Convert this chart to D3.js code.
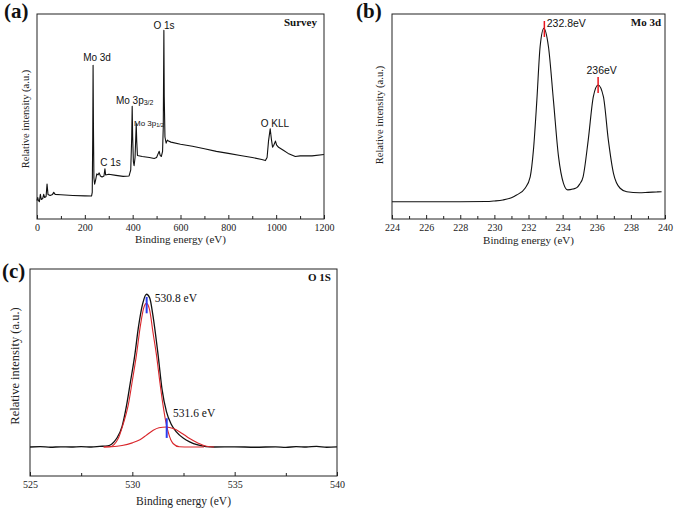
<!DOCTYPE html>
<html>
<head>
<meta charset="utf-8">
<script src="https://cdn.jsdelivr.net/npm/d3@7"></script>
<style>
  html, body { margin: 0; padding: 0; background: #fff; }
  svg { display: block; }
</style>
</head>
<body>
<svg id="chart" width="675" height="509"></svg>
<script>
// ---------------- DATA ----------------
// Panel (a) survey spectrum: [binding energy eV, relative intensity]
const surveyData = [
  [0,9],[3,10.5],[6,9],[10,8.5],[14,12],[18,9.5],[24,10],[28,12],[32,10.5],[38,11],[42,17],[46,12],
  [55,11.5],[65,12],[70,13],[76,12],[100,11.8],[150,11.5],[200,11.3],[228,11.2],[231,13],[233,40],
  [234.5,75],[236,45],[238,20],[241,17],[245,19],[250,22],[255,21.5],[260,22.5],[265,21],[272,20.5],
  [280,21],[284,24.5],[287,21.5],[300,21.8],[330,21.3],[360,20.8],[385,21],[392,24],[396,40],[398,55],
  [400,40],[403,28],[406,26],[410,30],[413,40],[415,46.5],[417,38],[420,31],[440,30.5],[470,30],
  [490,29.5],[500,30],[507,32],[511,33],[515,31],[520,30.5],[525,33],[528,45],[530.5,92],[532,60],
  [535,40],[540,37],[545,38.5],[550,38],[560,37.5],[600,36.5],[650,35.5],[700,34.3],[750,33],[800,32],
  [850,31],[900,30],[940,29],[955,28.5],[962,30],[968,38],[975,44],[980,39],[985,35],[990,36],[997,38],
  [1002,36],[1010,35],[1030,33.5],[1050,32],[1070,31],[1080,30.5],[1100,30.8],[1150,30.8],[1200,31.5]
];
// Panel (b) Mo 3d
const mo3dData = [
  [224,8.4],[226,8.4],[228,8.4],[229.5,8.5],[230,8.8],[230.5,9.3],[231,10.4],[231.3,11.7],[231.8,15],
  [232.1,20.6],[232.29,33.7],[232.49,58],[232.68,84],[232.9,93],[233.17,84],[233.46,58],[233.76,30.4],
  [234.05,17.4],[234.3,14.2],[234.6,14.6],[234.83,15.3],[235.0,17],[235.2,20.6],[235.5,38.5],[235.8,59.7],
  [236.08,65.4],[236.39,59.7],[236.68,38.5],[236.98,22.3],[237.37,15],[237.76,13.3],[238.5,12.8],
  [239,13],[239.5,13.2],[239.8,13.3]
];
// Panel (c) O 1s: measured envelope and two fitted components
const o1sData = [
  [525,14.0],[525.5,14.2],[526,13.9],[526.5,14.1],[527,14.0],[527.5,14.2],[528,14.0],[528.4,14.3],
  [528.8,14.6],[529.0,15.5],[529.23,18.1],[529.5,24],[529.72,34.2],[529.9,45],[530.12,58.4],[530.3,72],
  [530.5,83],[530.69,87.8],[530.85,86],[531.0,78],[531.26,58.4],[531.45,42],[531.67,31],[531.9,25],
  [532.15,21.3],[532.5,18.2],[532.8,16.5],[533.2,15.0],[533.6,14.2],[534,14.0],[535,14.1],[536,13.9],
  [537,14.1],[537.5,13.8],[538,14.2],[538.5,14.0],[539,14.3],[539.5,13.9],[540,14.1]
];
const o1sFitMain = [
  [528.6,14],[528.9,14.1],[529.31,18.1],[529.55,25],[529.8,34.2],[530.0,46],[530.2,58.4],[530.4,73],
  [530.55,81],[530.69,83.4],[530.85,80],[531.0,70],[531.18,58.4],[531.35,45],[531.5,34.2],[531.62,27],
  [531.75,21.3],[531.99,15.7],[532.3,14.1],[532.8,14],[533.5,14]
];
const o1sFitSecond = [
  [528.6,14],[529.0,14.1],[529.5,14.7],[530.0,16],[530.37,17.5],[530.7,19.8],[531.02,22.1],[531.3,23.3],
  [531.67,23.7],[532.0,22.9],[532.32,21.3],[532.55,19.8],[532.8,18.1],[533.2,16],[533.62,14.4],[534,14]
];
// Axis ticks
const surveyTicks = [0,200,400,600,800,1000,1200];
const surveyMinor = [100,300,500,700,900,1100];
const mo3dTicks = [224,226,228,230,232,234,236,238,240];
const mo3dMinor = [225,227,229,231,233,235,237,239];
const o1sTicks = [525,530,535,540];
const o1sMinor = [527.5,532.5,537.5];
// Peak annotations: [label, energy, intensity]
const surveyLabels = [
  ["Mo 3d", 251, 77],
  ["C 1s", 307, 25.9],
  ["O 1s", 531, 92.7],
  ["O KLL", 995, 44.9]
];
const surveySubLabels = [ // [main, subscript, energy(start), intensity, size]
  ["Mo 3p", "3/2", 330, 56.1, 10],
  ["Mo 3p", "1/2", 405.5, 45.4, 8]
];
const mo3dPeakLabels = [["232.8eV", 233.07, 93.7, "start"], ["236eV", 236.29, 70.7, "middle"]];
const mo3dMarks = [[232.93, 88.8, 96.6], [236.08, 61.5, 69.3]];
const o1sPeakLabels = [["530.8 eV", 531.1, 84.2], ["531.6 eV", 531.99, 28.3]];
const o1sMarks = [[530.70, 78.6, 86.5], [531.68, 18.4, 27.9]];

// ---------------- DRAW ----------------
const SERIF = "'Liberation Serif', 'Times New Roman', Times, serif";
const SANS = "'Liberation Sans', Arial, Helvetica, sans-serif";
const svg = d3.select("#chart");

function panel(cfg) {
  const x = d3.scaleLinear().domain(cfg.xDomain).range(cfg.xRange);
  const y = d3.scaleLinear().domain([0, 100]).range(cfg.yRange);
  const g = svg.append("g");
  const [x0, x1] = cfg.xRange, [yb, yt] = cfg.yRange;

  const line = d3.line().x(d => x(d[0])).y(d => y(d[1])).curve(cfg.curve || d3.curveLinear);
  cfg.series.forEach(s => {
    g.append("path").datum(s.data).attr("d", line)
      .attr("fill", "none").attr("stroke", s.color).attr("stroke-width", s.width)
      .attr("stroke-linejoin", "round");
  });

  g.append("rect").attr("x", x0).attr("y", yt).attr("width", x1 - x0).attr("height", yb - yt)
    .attr("fill", "none").attr("stroke", "#222").attr("stroke-width", 1);

  const axis = d3.axisBottom(x).tickValues(cfg.ticks).tickSizeInner(-4).tickSizeOuter(0).tickPadding(5)
    .tickFormat(d3.format("d"));
  const ax = g.append("g").attr("transform", `translate(0,${yb})`).call(axis);
  ax.attr("font-family", null).attr("font-size", null);
  ax.select(".domain").remove();
  ax.selectAll(".tick line").attr("stroke", "#222");
  ax.selectAll(".tick text").style("font-family", SERIF).style("font-size", cfg.tickFont + "px")
    .attr("fill", "#222").attr("dy", "0.71em");
  const minor = d3.axisBottom(x).tickValues(cfg.minor).tickSizeInner(-3).tickSizeOuter(0).tickFormat("");
  const mx = g.append("g").attr("transform", `translate(0,${yb})`).call(minor);
  mx.select(".domain").remove();
  mx.selectAll(".tick line").attr("stroke", "#222");

  g.append("text").style("font-family", SERIF).attr("x", (x0 + x1) / 2).attr("y", cfg.xTitleY)
    .attr("text-anchor", "middle").style("font-size", cfg.xTitleFont + "px").attr("fill", "#222")
    .text("Binding energy (eV)");
  g.append("text").style("font-family", SERIF)
    .attr("transform", `translate(${cfg.yTitleX},${cfg.yTitleCY}) rotate(-90)`)
    .attr("text-anchor", "middle").style("font-size", cfg.yTitleFont + "px").attr("fill", "#222")
    .text("Relative intensity (a.u.)");

  g.append("text").style("font-family", SERIF).attr("x", cfg.letterX).attr("y", cfg.letterY)
    .style("font-size", "21px").style("font-weight", "bold").attr("fill", "#111").text(cfg.letter);
  g.append("text").style("font-family", SERIF).attr("x", x1 - cfg.titleInset).attr("y", yt + 12)
    .attr("text-anchor", "end").style("font-size", "11px").style("font-weight", "bold").attr("fill", "#111")
    .text(cfg.title);
  return {g, x, y};
}

// (a)
const A = panel({
  xDomain: [0, 1200], xRange: [37, 324], yRange: [219, 14],
  ticks: surveyTicks, minor: surveyMinor, tickFont: 10,
  series: [{data: surveyData, color: "#111", width: 1.1}],
  xTitleY: 243, xTitleFont: 11, yTitleX: 29, yTitleCY: 119, yTitleFont: 10.5,
  letter: "(a)", letterX: 4, letterY: 18, title: "Survey", titleInset: 7
});
surveyLabels.forEach(([t, e, v]) => {
  A.g.append("text").style("font-family", SANS).attr("x", A.x(e)).attr("y", A.y(v))
    .attr("text-anchor", "middle").style("font-size", "10px").attr("fill", "#111").text(t);
});
surveySubLabels.forEach(([t, sub, e, v, fs]) => {
  const tx = A.g.append("text").style("font-family", SANS).attr("x", A.x(e)).attr("y", A.y(v))
    .style("font-size", fs + "px").attr("fill", "#111");
  tx.append("tspan").text(t);
  tx.append("tspan").style("font-size", (fs * 0.7) + "px").attr("dy", fs * 0.15).text(sub);
});

// (b)
const B = panel({
  xDomain: [224, 240], xRange: [392, 665], yRange: [219, 14],
  ticks: mo3dTicks, minor: mo3dMinor, tickFont: 10,
  series: [{data: mo3dData, color: "#111", width: 1.1}], curve: d3.curveMonotoneX,
  xTitleY: 244, xTitleFont: 11, yTitleX: 383, yTitleCY: 115, yTitleFont: 10.5,
  letter: "(b)", letterX: 356, letterY: 18, title: "Mo 3d", titleInset: 4
});
mo3dMarks.forEach(([e, lo, hi]) => {
  B.g.append("line").attr("x1", B.x(e)).attr("x2", B.x(e)).attr("y1", B.y(lo)).attr("y2", B.y(hi))
    .attr("stroke", "#e8141c").attr("stroke-width", 1.5);
});
mo3dPeakLabels.forEach(([t, e, v, anchor]) => {
  B.g.append("text").style("font-family", SANS).attr("x", B.x(e)).attr("y", B.y(v))
    .attr("text-anchor", anchor).style("font-size", "10.5px").attr("fill", "#111").text(t);
});

// (c)
const C = panel({
  xDomain: [525, 540], xRange: [30, 337], yRange: [476, 269],
  ticks: o1sTicks, minor: o1sMinor, tickFont: 10,
  series: [
    {data: o1sData, color: "#111", width: 1.3},
    {data: o1sFitMain, color: "#d9262b", width: 1.1},
    {data: o1sFitSecond, color: "#d9262b", width: 1.1}
  ], curve: d3.curveMonotoneX,
  xTitleY: 505, xTitleFont: 11.5, yTitleX: 19, yTitleCY: 366, yTitleFont: 12.5,
  letter: "(c)", letterX: 2, letterY: 278, title: "O 1S", titleInset: 6
});
o1sMarks.forEach(([e, lo, hi]) => {
  C.g.append("line").attr("x1", C.x(e)).attr("x2", C.x(e)).attr("y1", C.y(lo)).attr("y2", C.y(hi))
    .attr("stroke", "#2a3cf0").attr("stroke-width", 2);
});
o1sPeakLabels.forEach(([t, e, v]) => {
  C.g.append("text").style("font-family", SERIF).attr("x", C.x(e)).attr("y", C.y(v))
    .style("font-size", "11.5px").attr("fill", "#111").text(t);
});
</script>
</body>
</html>
